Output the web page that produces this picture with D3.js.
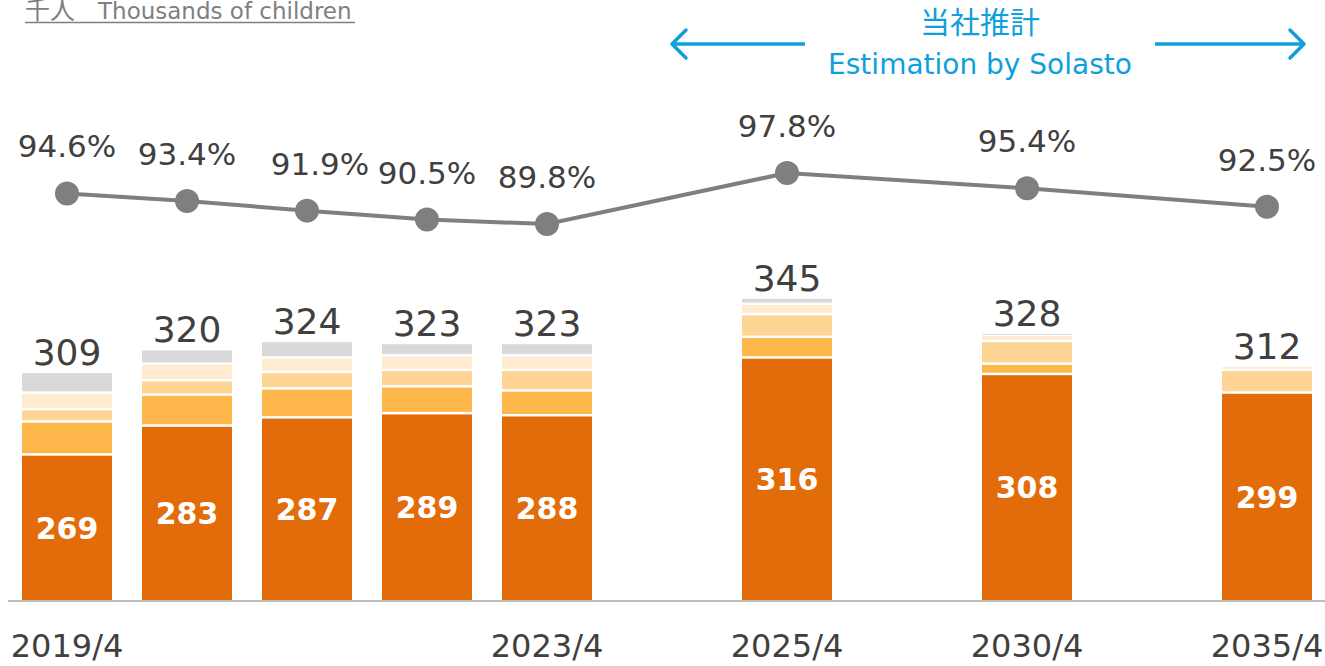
<!DOCTYPE html>
<html>
<head>
<meta charset="utf-8">
<script src="https://cdn.jsdelivr.net/npm/d3@7"></script>
<style>
  html, body { margin: 0; padding: 0; background: #ffffff; }
  svg { display: block; font-family: "DejaVu Sans", Verdana, sans-serif; }
</style>
</head>
<body>
<svg id="chart" width="1325" height="666"></svg>
<script>
// ---- data ----
const slots = ["2019/4","2020/4","2021/4","2022/4","2023/4","gapA","2025/4","gapB","2030/4","gapC","2035/4"];
const categories = ["2019/4","2020/4","2021/4","2022/4","2023/4","2025/4","2030/4","2035/4"];
const tickLabels = ["2019/4","","","","2023/4","2025/4","2030/4","2035/4"];
const seriesMain   = [269, 283, 287, 289, 288, 316, 308, 299];
const seriesB      = [16, 15, 14, 13, 12, 10, 5, 0];
const seriesC      = [6, 7, 8, 8, 10, 11, 11, 11];
const seriesD      = [8, 8, 7, 7, 7, 5, 3, 2];
const seriesE      = [10, 7, 8, 6, 6, 3, 1, 0];
const totals       = [309, 320, 324, 323, 323, 345, 328, 312];
const ratePct      = [94.6, 93.4, 91.9, 90.5, 89.8, 97.8, 95.4, 92.5];
const unitLabelJa  = "千人";
const unitLabelEn  = "Thousands of children";
const estimationJa = "当社推計";
const estimationEn = "Estimation by Solasto";

const segColors = ["#E36C0A", "#FDB74A", "#FED594", "#FEEBD0", "#D9D9D9"];
const seriesList = [seriesMain, seriesB, seriesC, seriesD, seriesE];

const svg = d3.select("#chart");
const baseY = 601;

const x = d3.scaleBand().domain(slots).range([7, 1327]).paddingInner(0.25).paddingOuter(0.125);
const y = d3.scaleLinear().domain([198, 400]).range([baseY, baseY - 202 * 2.064]);
const yP = d3.scaleLinear().domain([80, 100]).range([286.5, 159]);

// ---- stacked bars ----
const rows = categories.map((c, i) => {
  const r = { cat: c };
  seriesList.forEach((s, k) => r["s" + k] = s[i]);
  return r;
});
const stacked = d3.stack().keys(["s0","s1","s2","s3","s4"])(rows);
const gap = 1.25;

stacked.forEach((layer, k) => {
  svg.append("g").selectAll("rect")
    .data(layer.filter(d => d[1] - d[0] > 0))
    .join("rect")
    .attr("x", d => x(d.data.cat))
    .attr("width", x.bandwidth())
    .attr("y", d => y(d[1]) + gap)
    .attr("height", d => {
      const top = y(d[1]) + gap;
      const bot = k === 0 ? baseY : y(d[0]) - gap;
      return Math.max(0.8, bot - top);
    })
    .attr("fill", segColors[k]);
});

// ---- axis ----
const xAxisG = svg.append("g").attr("transform", `translate(0,${baseY})`);
xAxisG.append("line").attr("x1", 8).attr("x2", 1325).attr("y1", 0).attr("y2", 0)
  .attr("stroke", "#BFBFBF").attr("stroke-width", 2);
svg.append("g").selectAll("text")
  .data(categories)
  .join("text")
  .attr("x", d => x(d) + x.bandwidth() / 2)
  .attr("y", 657)
  .attr("text-anchor", "middle")
  .attr("font-size", 32)
  .attr("fill", "#404040")
  .text((d, i) => tickLabels[i]);

// ---- inside labels ----
svg.append("g").selectAll("text")
  .data(categories)
  .join("text")
  .attr("x", d => x(d) + x.bandwidth() / 2)
  .attr("y", (d, i) => (y(seriesMain[i]) + baseY) / 2 + 11)
  .attr("text-anchor", "middle")
  .attr("font-size", 30)
  .attr("font-weight", "bold")
  .attr("fill", "#ffffff")
  .text((d, i) => seriesMain[i]);

// ---- totals ----
svg.append("g").selectAll("text")
  .data(categories)
  .join("text")
  .attr("x", d => x(d) + x.bandwidth() / 2)
  .attr("y", (d, i) => y(totals[i]) - 7)
  .attr("text-anchor", "middle")
  .attr("font-size", 36)
  .attr("fill", "#404040")
  .text((d, i) => totals[i]);

// ---- line ----
const line = d3.line()
  .x((d, i) => x(categories[i]) + x.bandwidth() / 2)
  .y(d => yP(d));
svg.append("path").datum(ratePct)
  .attr("d", line)
  .attr("fill", "none")
  .attr("stroke", "#7F7F7F")
  .attr("stroke-width", 4);
svg.append("g").selectAll("circle")
  .data(ratePct)
  .join("circle")
  .attr("cx", (d, i) => x(categories[i]) + x.bandwidth() / 2)
  .attr("cy", d => yP(d))
  .attr("r", 12)
  .attr("fill", "#7F7F7F");
svg.append("g").selectAll("text")
  .data(ratePct)
  .join("text")
  .attr("x", (d, i) => x(categories[i]) + x.bandwidth() / 2 + (i === 2 ? 13 : 0))
  .attr("y", d => yP(d) - 36)
  .attr("text-anchor", "middle")
  .attr("font-size", 31)
  .attr("fill", "#404040")
  .text(d => d.toFixed(1) + "%");

// ---- unit label ----
const unitG = svg.append("g");
unitG.append("text").attr("x", 25).attr("y", 19)
  .attr("font-family", "'Noto Sans CJK JP', sans-serif")
  .attr("font-size", 25).attr("fill", "#7F7F7F").text(unitLabelJa);
unitG.append("text").attr("x", 98).attr("y", 19)
  .attr("font-size", 23).attr("fill", "#7F7F7F").text(unitLabelEn);
unitG.append("line").attr("x1", 25).attr("x2", 355).attr("y1", 22.5).attr("y2", 22.5)
  .attr("stroke", "#7F7F7F").attr("stroke-width", 1.5);

// ---- estimation annotation ----
const blue = "#0FA0DC";
const estG = svg.append("g");
const xLeft = x("2023/4") + x.bandwidth() + 80;   // ~672
const xRight = x("2035/4") + x.bandwidth() - 8;   // ~1305
const ay = 44;
estG.append("line").attr("x1", xLeft).attr("x2", 805).attr("y1", ay).attr("y2", ay)
  .attr("stroke", blue).attr("stroke-width", 3.5);
estG.append("path").attr("d", `M${xLeft + 14},${ay - 14} L${xLeft},${ay} L${xLeft + 14},${ay + 14}`)
  .attr("fill", "none").attr("stroke", blue).attr("stroke-width", 3.5).attr("stroke-linecap", "round").attr("stroke-linejoin", "round");
estG.append("line").attr("x1", 1155).attr("x2", xRight).attr("y1", ay).attr("y2", ay)
  .attr("stroke", blue).attr("stroke-width", 3.5);
estG.append("path").attr("d", `M${xRight - 14},${ay - 14} L${xRight},${ay} L${xRight - 14},${ay + 14}`)
  .attr("fill", "none").attr("stroke", blue).attr("stroke-width", 3.5).attr("stroke-linecap", "round").attr("stroke-linejoin", "round");
estG.append("text").attr("x", 980).attr("y", 33).attr("text-anchor", "middle")
  .attr("font-family", "'Noto Sans CJK JP', sans-serif")
  .attr("font-size", 30).attr("fill", blue).text(estimationJa);
estG.append("text").attr("x", 980).attr("y", 74).attr("text-anchor", "middle")
  .attr("font-size", 28).attr("fill", blue).text(estimationEn);
</script>
</body>
</html>
